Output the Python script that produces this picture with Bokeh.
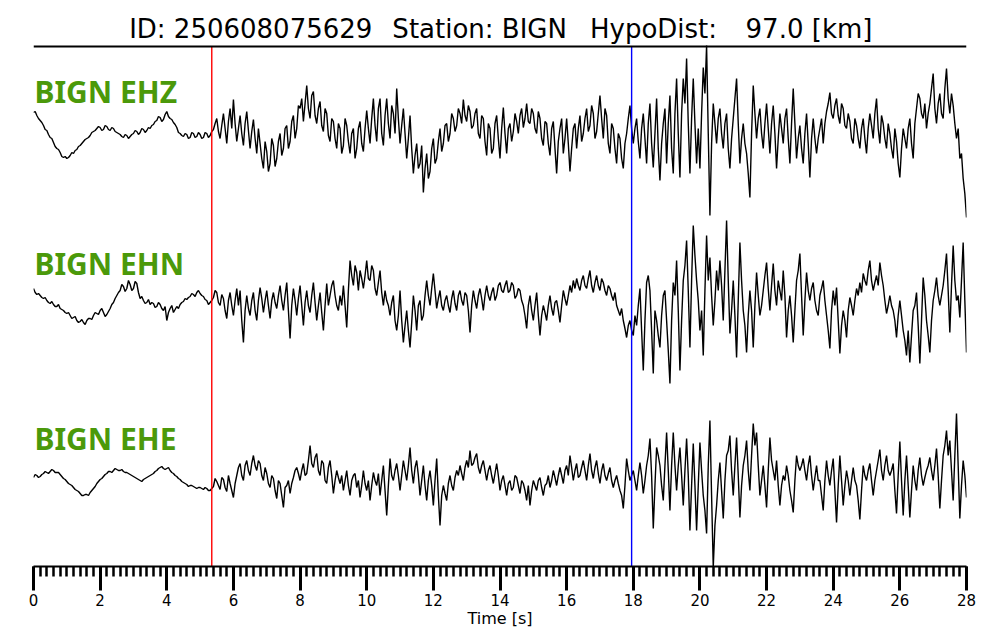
import numpy as np
from bokeh.plotting import figure
from bokeh.models import Range1d, Span, Label, SingleIntervalTicker
from bokeh.embed import file_html
from bokeh.resources import INLINE

# ---------------- data ----------------
dt = 0.05
p_pick = 5.35                 # P pick [s]
s_pick = 17.95                # S pick [s]
channels = ["BIGN EHZ", "BIGN EHN", "BIGN EHE"]
title_parts = ["ID: 250608075629", "Station: BIGN", "HypoDist:", "97.0 [km]"]
x_label = "Time [s]"

# amplitudes (arbitrary units, positive = up), one value every 0.05 s from 0 to 28 s
ehz = [
    21, 22, 18, 15, 13, 11, 8, 4, 3, -1, -4, -5, -9, -13, -15, -16, -19, -23, -24, -23,
    -25, -24, -22, -19, -20, -17, -16, -13, -12, -10, -8, -6, -5, -4, -2, 1, 2, 3, 5, 7,
    6, 3, 4, 8, 7, 4, 3, 6, 5, 2, 1, 0, -1, -3, -4, -1, -2, -5, -3, -1,
    0, 3, 2, -1, 1, 5, 4, 1, 3, 6, 5, 8, 9, 12, 13, 17, 16, 12, 14, 19,
    22, 17, 15, 14, 11, 9, 6, 1, 0, -2, -3, 0, -1, -5, -4, 1, 0, -4, -3, 1,
    -1, -5, -4, 1, 0, -4, -2, 2, 4, 10, 15, 2, -5, 8, 20, 5, -10, 12, 25, 5,
    34, 10, -8, 5, 18, 0, -12, 10, 22, 3, -15, 2, 14, -5, -20, 5, -10, -25, -35, -8,
    -18, -38, -30, -5, -12, -33, -25, -8, 0, -22, -15, 5, 8, -15, -8, 12, 18, -5, 5, 28,
    25, 35, 12, 30, 48, 25, 15, 38, 42, 18, 10, 25, 32, 8, 2, 25, 20, -2, -8, 15,
    12, -5, -15, 10, 5, -20, -12, 15, 8, -8, -20, 0, 5, -25, -15, 5, 12, -10, -18, 5,
    23, 5, -10, 15, 35, 8, -8, 25, 35, 0, -12, 18, 35, 10, -5, 28, 20, 0, 45, 15,
    -10, 8, 25, 0, -25, -5, 18, -15, -40, -22, -10, -35, -30, -12, -59, -35, -20, -45, -38, -15,
    -5, -30, -25, -8, 5, -18, -10, 8, 10, -8, 0, 20, 15, 2, 8, 25, 20, 10, 34, 18,
    12, 28, 22, 5, 8, 20, 25, 0, -5, 18, 15, -8, -22, 10, 5, -20, -15, 10, 18, -5,
    -25, 5, 26, 0, -20, 5, 10, -8, 2, 20, 12, 0, 18, 25, 6, 15, 30, 12, 10, 25,
    20, 5, 0, 22, 15, -5, -12, 12, 10, -10, -22, 5, 12, -15, -40, -8, 5, 15, -20, -5,
    15, -10, -38, -15, 5, 10, -15, 5, 18, -8, 0, 15, 25, 2, 8, 28, 20, -5, 2, 20,
    38, 15, -5, 25, 18, -10, -20, 10, 5, -15, -30, 0, -5, -25, -35, -10, 0, 15, 28, 5,
    -10, 5, 15, -8, -25, 5, 20, -5, -30, 10, 30, -10, -34, 0, 35, -15, -47, -10, 10, 25,
    -30, 10, 38, -15, -40, 20, 55, 0, -44, 20, 55, 30, 75, 10, -40, 15, 55, 10, -30, 5,
    -35, 20, 66, 40, 88, 0, -82, -10, 30, 10, -10, 15, 25, 0, -15, 10, 20, -15, -35, -5,
    15, 35, 55, 10, -30, -5, 10, -10, -20, -40, -64, 0, 48, 20, -5, 15, 25, 0, -15, 10,
    30, 5, -20, 10, 28, 0, -35, -5, 20, 5, -10, 15, 25, -5, -30, 10, 45, 10, -25, -5,
    8, -15, -30, 0, 20, -10, -44, -5, 15, -5, -20, -5, 5, 15, -10, 10, 22, 30, 41, 20,
    15, 28, 35, 18, 10, 30, 25, 8, 5, 20, 12, -5, -10, 15, 8, -5, -15, 5, 15, -5,
    -20, 5, 20, 8, -5, 20, 35, 5, -10, 18, 10, -5, -15, 10, 0, -15, -25, 5, -8, -30,
    -44, -15, 5, -5, -15, 5, 15, -10, -25, 10, 25, 40, 35, 20, 15, 30, 5, 20, 30, 45,
    60, 25, 10, 30, 40, 20, 15, 45, 65, 35, 20, 40, 28, 10, -5, 5, -25, -20, -45, -60,
    -84,
]

ehn = [
    12, 8, 6, 7, 5, 3, 2, 3, 0, -2, -3, -1, -4, -6, -6, -4, -8, -9, -10, -12,
    -13, -12, -15, -18, -17, -16, -20, -22, -21, -19, -22, -24, -20, -18, -18, -19, -15, -12, -13, -14,
    -10, -8, -12, -16, -14, -11, -8, -4, -2, 2, 5, 8, 10, 16, 14, 9, 12, 20, 16, 10,
    12, 19, 17, 8, 2, 4, 0, -3, -2, 1, -4, -2, -3, -7, -6, -2, -4, -8, -10, -6,
    -20, -12, -8, -5, -12, -9, -6, -8, -4, -2, -1, 2, 1, 3, 4, 7, 6, 4, 8, 10,
    7, 5, 4, 1, 0, -4, -2, 0, 3, 10, 8, -2, -5, 6, 2, -10, -18, 0, 8, -5,
    -15, 0, 12, -5, 10, -20, -42, -10, 5, -8, -15, 0, 8, -10, -20, 0, 13, 2, -12, 0,
    10, -5, -18, 0, 8, -2, -8, 5, 15, 0, -10, 5, 18, -10, -38, -5, 12, 0, -15, 2,
    15, -5, -25, -2, 10, -5, -12, 5, 18, -2, -20, -5, 8, -12, -30, -5, 17, -5, 5, 15,
    20, 5, -5, -10, 5, -5, 15, -5, -27, 10, 40, 25, 15, 35, 28, 10, 30, 22, 12, 25,
    40, 22, 20, 35, 30, 12, 5, 18, 30, 8, -5, 10, 0, -5, -15, -2, 5, -20, -30, -15,
    10, -20, -42, -25, -10, -30, -47, -22, 5, -10, -30, -5, 0, -20, -15, 5, 20, 5, -5, 12,
    27, 10, -8, 2, 10, -5, -10, 0, 5, -5, -12, 2, 10, -3, -10, 5, 10, 0, -5, 8,
    5, -10, -32, -5, 10, 0, -8, 5, 12, 2, -10, 5, 15, 5, 0, 8, 13, 0, 5, 15,
    18, 10, 8, 15, 20, 8, 10, 18, 15, 2, 5, 12, 10, 0, -5, -15, -28, -5, 5, -10,
    -20, -5, 8, -15, -35, -15, -5, -12, -20, -5, 5, -8, -15, -2, 0, -10, -22, -5, 10, 2,
    -5, 5, 15, 8, 20, 12, 22, 15, 10, 20, 25, 15, 12, 22, 30, 15, 8, 18, 25, 15,
    10, 22, 18, 10, 5, 15, 12, 5, 0, 8, -5, -10, -15, -8, -20, -28, -37, -25, -20, -30,
    -35, -15, -25, -5, 12, -30, -70, -20, 18, 25, 10, -30, -73, -10, -20, -35, -47, -15, 5, 10,
    -20, -50, -83, -20, 18, 5, 40, -10, -70, -20, 20, 35, 60, 10, -47, 20, 75, 45, 20, 0,
    -30, -10, -55, 10, 65, 20, 43, 5, -25, 0, 30, 10, 40, 15, -20, 30, 80, 20, -33, -10,
    20, -15, -57, 0, 58, 20, -10, -25, -52, -15, 10, -10, -47, -5, 28, 5, -15, -5, 10, 25,
    38, 12, -10, 15, 37, 10, -5, 20, 10, 0, 30, 5, -37, -10, 5, -15, -42, -10, 20, 30,
    47, 5, -35, 0, 28, 10, 0, 12, 18, 0, -10, -15, 5, 12, 20, 0, -15, -30, -48, -10,
    10, -5, 13, -20, -53, -25, -10, -20, -37, -10, 3, -5, -15, 0, 12, 5, 18, 8, 27, 20,
    15, 30, 40, 20, 10, 18, 25, 15, 38, 25, 15, 0, -13, -5, 5, -5, -10, -20, -37, -15,
    0, -15, -30, -40, -55, -30, -62, -35, -10, -5, 8, -25, -63, -20, 23, 5, -20, -35, -52, -20,
    0, 10, 23, 5, -5, 5, 15, 30, 47, 10, -32, 15, 55, 20, 0, 5, -17, 20, 58, 0,
    -52,
]

ehe = [
    -2, 1, 0, -2, -1, 1, 2, 4, 3, 2, 4, 6, 5, 3, 3, 3, 1, -1, -3, -4,
    -6, -8, -9, -10, -12, -14, -15, -16, -18, -20, -20, -19, -19, -20, -17, -15, -13, -11, -8, -6,
    -4, -3, -1, 1, 2, 4, 4, 3, 5, 7, 6, 5, 5, 6, 4, 3, 3, 2, 1, 0,
    -1, -2, -3, -4, -5, -6, -4, -3, -2, -1, 0, 1, 2, 4, 5, 7, 8, 9, 7, 6,
    7, 8, 5, 3, 2, 0, -1, -3, -4, -6, -7, -8, -9, -11, -10, -10, -11, -12, -13, -12,
    -12, -13, -14, -12, -13, -15, -15, -13, -11, -3, -6, -10, -14, -2, -4, -12, -16, 0, -8, -15,
    -22, -8, 0, 8, 12, 0, -5, 10, 15, 5, 0, 12, 20, 10, 5, 15, 12, 0, -5, 8,
    2, -8, -12, 0, -3, -15, -23, -5, -8, -20, -32, -12, -10, -5, -18, -8, -2, 5, 8, 2,
    -5, 5, 12, 0, 2, 15, 30, 12, 8, 18, 22, 5, 0, 15, 12, -5, -8, 8, 15, 0,
    -18, -5, 5, -2, -8, 0, -15, -5, 5, -10, -20, -5, 0, 2, -12, -5, -22, -10, 5, -8,
    -15, -5, -25, -10, 3, -5, -10, 2, -20, -5, 10, -15, -40, -10, 17, 0, -5, 5, 12, 0,
    -15, 0, 15, 5, -5, 10, 28, 5, -8, 8, 15, 0, -20, -5, 10, -10, -25, -5, 5, -10,
    -30, -5, 17, -20, -50, -20, -10, -18, -25, -8, 0, -10, -15, -2, 5, 0, 10, 2, -5, 8,
    15, 8, 25, 10, 12, 18, 22, 8, 2, 10, 15, 5, -5, 5, 10, 0, -8, 2, 12, 0,
    -15, -5, 0, -10, -20, -8, -5, -15, -12, 0, -2, -10, -18, -5, -8, -15, -25, -10, -30, -15,
    -5, -10, -15, -5, -2, -12, -20, -10, -8, 0, -12, -5, 5, -2, -10, 0, 8, 0, -8, 5,
    10, 0, 20, 8, -5, 5, 12, -2, 0, 8, 15, 5, -5, 10, 22, 5, -3, 8, 15, 2,
    -8, 5, 12, 0, -5, 2, 8, -5, -12, -5, 0, -8, -15, -20, -33, -10, 17, 5, -5, 0,
    5, -5, -15, 0, 13, 0, -18, -5, 10, 20, 37, 0, -53, -10, 28, 20, 10, -10, -25, 10,
    43, 5, -35, 10, 43, 10, -15, 10, 28, 0, -30, 5, 37, 0, -55, -10, 32, -10, -55, -10,
    33, 5, -20, -35, -58, 10, 55, -20, -92, -50, -30, -5, 13, -15, -43, -5, 20, 25, 40, 5,
    -20, 10, 38, 0, -42, -10, 10, 20, 35, 5, -15, 20, 52, 30, 43, 10, -20, -5, 10, -10,
    -32, 5, 38, 15, 5, -5, 15, -10, -30, -10, 0, -5, 10, 0, -15, -25, -37, -5, 20, 10,
    5, 10, 17, 5, -5, 10, 20, 0, -15, -2, 10, -5, -5, -20, -35, -5, 15, 0, -10, 5,
    17, -15, -47, -10, 20, -5, -30, -10, 5, -5, -20, -5, 8, -5, -10, -25, -44, -15, 10, 0,
    -5, 5, 12, -5, -20, -5, 5, 15, 26, 5, -5, 10, 20, 5, 0, 5, 12, -15, -38, 0,
    34, -5, -40, -5, 20, -10, -42, -15, 10, -5, -15, 5, 18, 0, -10, -2, 5, 10, 18, 5,
    -5, 10, 27, 0, -33, -5, 20, 30, 45, 20, 35, 5, -25, 20, 62, 10, -43, -10, 15, 0,
    -22,
]

traces = [ehz, ehn, ehe]

# ---------------- layout (plot units grow downward, 1 unit ~ 1 px) ----------------
t_max = 28
y_bottom, y_top = 566, 0
top_rule = 46
bases = [133, 300, 475]          # zero line of each trace
label_base = [91, 263, 438]      # channel label anchors
title_base = 28
title_x = [2.87, 10.77, 16.70, 21.37]   # start of each title piece [s]

p = figure(width=992, height=632,
           x_range=Range1d(0, t_max), y_range=Range1d(y_bottom, y_top),
           output_backend="svg", toolbar_location=None, title=None,
           y_axis_location=None,
           min_border_left=33, min_border_right=26,
           min_border_top=0, min_border_bottom=66)
p.xgrid.visible = False
p.ygrid.visible = False
p.outline_line_color = None
p.background_fill_color = "white"
p.border_fill_color = "white"

for txt, tx in zip(title_parts, title_x):
    p.add_layout(Label(x=tx, y=title_base, text=txt,
                       text_font="DejaVu Sans", text_font_size="26px",
                       text_color="black", text_align="left",
                       text_baseline="alphabetic"))

for vals, base in zip(traces, bases):
    v = np.asarray(vals, dtype=float)
    t = np.arange(len(v)) * dt
    p.line(t, base - v, line_color="black", line_width=1.4)

for name, ly in zip(channels, label_base):
    p.add_layout(Label(x=0, y=ly, x_offset=1, text=name,
                       text_font="Noto Sans", text_font_style="bold",
                       text_font_size="30px", text_color="#4b990a",
                       text_baseline="alphabetic", text_align="left"))

p.segment(x0=[p_pick], y0=[y_bottom], x1=[p_pick], y1=[top_rule],
          line_color="red", line_width=1.4)
p.segment(x0=[s_pick], y0=[y_bottom], x1=[s_pick], y1=[top_rule],
          line_color="blue", line_width=1.4)
p.add_layout(Span(location=top_rule, dimension="width", line_color="black", line_width=2))

ax = p.xaxis[0]
ax.ticker = SingleIntervalTicker(interval=2, num_minor_ticks=10)
ax.axis_label = x_label
ax.axis_label_text_font = "DejaVu Sans"
ax.axis_label_text_font_size = "16px"
ax.axis_label_text_font_style = "normal"
ax.axis_label_text_color = "black"
ax.axis_label_standoff = 0
ax.major_label_text_font = "DejaVu Sans"
ax.major_label_text_font_size = "15px"
ax.major_label_text_color = "black"
ax.major_label_standoff = 3
ax.axis_line_width = 2
ax.axis_line_color = "black"
ax.major_tick_in = 0
ax.major_tick_out = 24
ax.major_tick_line_width = 3
ax.major_tick_line_color = "black"
ax.minor_tick_in = 0
ax.minor_tick_out = 10
ax.minor_tick_line_width = 2.5
ax.minor_tick_line_color = "black"

open("out.html", "w").write(file_html(p, INLINE))
